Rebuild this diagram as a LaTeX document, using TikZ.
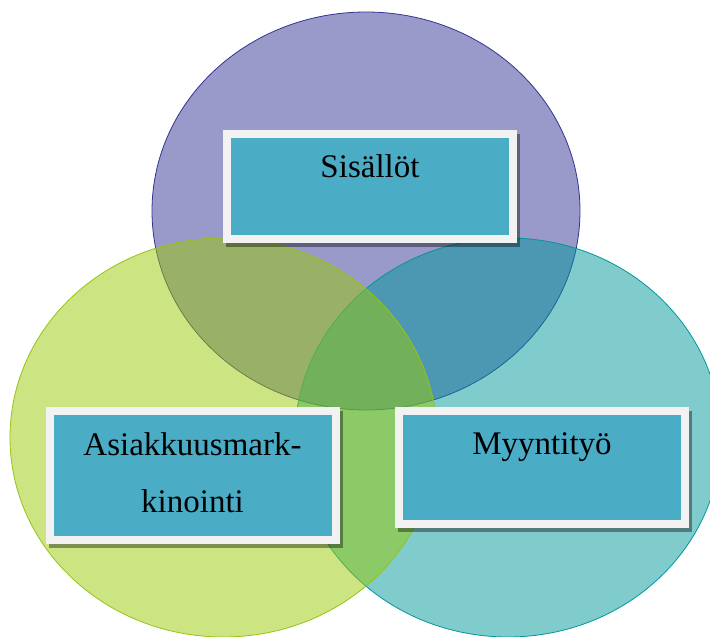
\documentclass[tikz,border=0pt]{standalone}
\usepackage{fontspec}
\setmainfont{Liberation Serif}
\usetikzlibrary{shadows}
\begin{document}
\begin{tikzpicture}[x=1pt,y=1pt]
\definecolor{sisviolet}{RGB}{51,51,149}
\definecolor{asgreen}{RGB}{153,201,5}
\definecolor{asline}{RGB}{150,196,20}
\definecolor{myteal}{RGB}{1,151,153}
\definecolor{boxblue}{RGB}{75,172,198}
\definecolor{boxwhite}{RGB}{242,242,242}
\tikzstyle{area}=[line width=0.8pt,fill opacity=0.5]
\tikzstyle{box}=[rectangle,fill=boxwhite,inner sep=0pt,minimum width=294pt,
  drop shadow={shadow xshift=3pt,shadow yshift=-4pt,fill=black,opacity=0.38},
  path picture={\fill[boxblue] ([shift={(8pt,8pt)}]path picture bounding box.south west)
    rectangle ([shift={(-8pt,-8pt)}]path picture bounding box.north east);},
  font=\fontsize{33}{57}\selectfont,text height=25pt]
\useasboundingbox (0,0) rectangle (710,637);
% the three areas
\draw[area,draw=sisviolet,fill=sisviolet] (366,426) ellipse [x radius=214,y radius=199];
\draw[area,draw=myteal,fill=myteal] (508,199.5) ellipse [x radius=213,y radius=199.5];
\draw[area,draw=asline,fill=asgreen] (223.5,199.5) ellipse [x radius=213.5,y radius=199.5];
% labels
\node[box,minimum height=113pt,text depth=42pt] (sis) at (370,450.5) {Sisällöt};
\node[box,minimum height=121.3pt,text depth=49.6pt] (myy) at (542,169.7) {Myyntityö};
\node[box,minimum height=137.3pt,text depth=63.6pt,text width=280pt,align=center] (asi) at (192.5,161.7) {Asiakkuusmark-\\kinointi};
\end{tikzpicture}
\end{document}
